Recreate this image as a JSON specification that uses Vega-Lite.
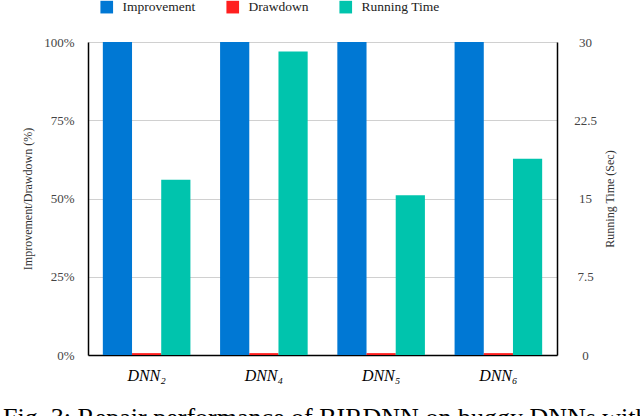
{
  "$schema": "https://vega.github.io/schema/vega-lite/v6.json",
  "autosize": {"type": "none"},
  "width": 469,
  "height": 313,
  "padding": {"left": 88, "top": 42, "right": 83, "bottom": 61},
  "background": "white",
  "config": {
    "font": "Liberation Serif",
    "view": {"stroke": null},
    "axis": {"labelFont": "Liberation Serif", "titleFont": "Liberation Serif"},
    "legend": {"labelFont": "Liberation Serif", "titleFont": "Liberation Serif"}
  },
  "title": {
    "text": "Fig. 3: Repair performance of BIRDNN on buggy DNNs with",
    "orient": "bottom",
    "anchor": "start",
    "frame": "group",
    "dx": -85,
    "offset": 22,
    "fontSize": 26,
    "font": "Liberation Serif",
    "fontWeight": "normal",
    "color": "#000000"
  },
  "data": {
    "values": [
      {"dnn": "DNN₂", "series": "Improvement", "value": 100},
      {"dnn": "DNN₂", "series": "Drawdown", "value": 0.6},
      {"dnn": "DNN₂", "series": "Running Time", "value": 16.8},
      {"dnn": "DNN₄", "series": "Improvement", "value": 100},
      {"dnn": "DNN₄", "series": "Drawdown", "value": 0.6},
      {"dnn": "DNN₄", "series": "Running Time", "value": 29.1},
      {"dnn": "DNN₅", "series": "Improvement", "value": 100},
      {"dnn": "DNN₅", "series": "Drawdown", "value": 0.6},
      {"dnn": "DNN₅", "series": "Running Time", "value": 15.3},
      {"dnn": "DNN₆", "series": "Improvement", "value": 100},
      {"dnn": "DNN₆", "series": "Drawdown", "value": 0.6},
      {"dnn": "DNN₆", "series": "Running Time", "value": 18.8}
    ]
  },
  "encoding": {
    "x": {
      "field": "dnn",
      "type": "nominal",
      "sort": ["DNN₂", "DNN₄", "DNN₅", "DNN₆"],
      "scale": {"paddingInner": 0.253, "paddingOuter": 0.1265},
      "axis": {
        "title": null,
        "labelAngle": 0,
        "labelFont": "Liberation Serif",
        "labelFontStyle": "italic",
        "labelFontSize": 16,
        "labelColor": "#000000",
        "labelPadding": 12,
        "ticks": false,
        "domainColor": "#000000",
        "domainWidth": 1.5
      }
    },
    "xOffset": {
      "field": "series",
      "type": "nominal",
      "scale": {"domain": ["Improvement", "Drawdown", "Running Time"], "paddingInner": 0, "paddingOuter": 0}
    },
    "color": {
      "field": "series",
      "type": "nominal",
      "scale": {"domain": ["Improvement", "Drawdown", "Running Time"], "range": ["#0078d4", "#ff1f1f", "#00c4ad"]},
      "legend": {
        "title": null,
        "orient": "none",
        "direction": "horizontal",
        "legendX": 12,
        "legendY": -42,
        "padding": 0,
        "symbolType": "square",
        "symbolSize": 160,
        "symbolStrokeWidth": 0,
        "labelFont": "Liberation Serif",
        "labelFontSize": 13.5,
        "labelColor": "#222222",
        "labelOffset": 9,
        "columnPadding": 30
      }
    }
  },
  "layer": [
    {
      "transform": [{"filter": "datum.series !== 'Running Time'"}],
      "mark": {"type": "bar"},
      "encoding": {
        "y": {
          "field": "value",
          "type": "quantitative",
          "scale": {"domain": [0, 100]},
          "axis": {
            "orient": "left",
            "title": "Improvement/Drawdown (%)",
            "titleFont": "Liberation Serif",
            "titleFontSize": 12,
            "titleFontWeight": "normal",
            "titleColor": "#333333",
            "titlePadding": 9,
            "values": [0, 25, 50, 75, 100],
            "labelExpr": "datum.value + '%'",
            "labelFont": "Liberation Serif",
            "labelFontSize": 13,
            "labelColor": "#444444",
            "labelPadding": 14,
            "ticks": false,
            "grid": true,
            "gridColor": "#d0d0d0",
            "domainColor": "#000000",
            "domainWidth": 1.5
          }
        }
      }
    },
    {
      "transform": [{"filter": "datum.series === 'Running Time'"}],
      "mark": {"type": "bar"},
      "encoding": {
        "y": {
          "field": "value",
          "type": "quantitative",
          "scale": {"domain": [0, 30]},
          "axis": {
            "orient": "right",
            "title": "Running Time (Sec)",
            "titleAngle": 270,
            "titleFont": "Liberation Serif",
            "titleFontSize": 12,
            "titleFontWeight": "normal",
            "titleColor": "#333333",
            "titlePadding": 20,
            "values": [0, 7.5, 15, 22.5, 30],
            "labelExpr": "'' + datum.value",
            "labelFont": "Liberation Serif",
            "labelFontSize": 13,
            "labelColor": "#444444",
            "labelAlign": "center",
            "labelPadding": 28,
            "ticks": false,
            "grid": false,
            "domainColor": "#000000",
            "domainWidth": 1.5
          }
        }
      }
    }
  ],
  "resolve": {"scale": {"y": "independent"}}
}
